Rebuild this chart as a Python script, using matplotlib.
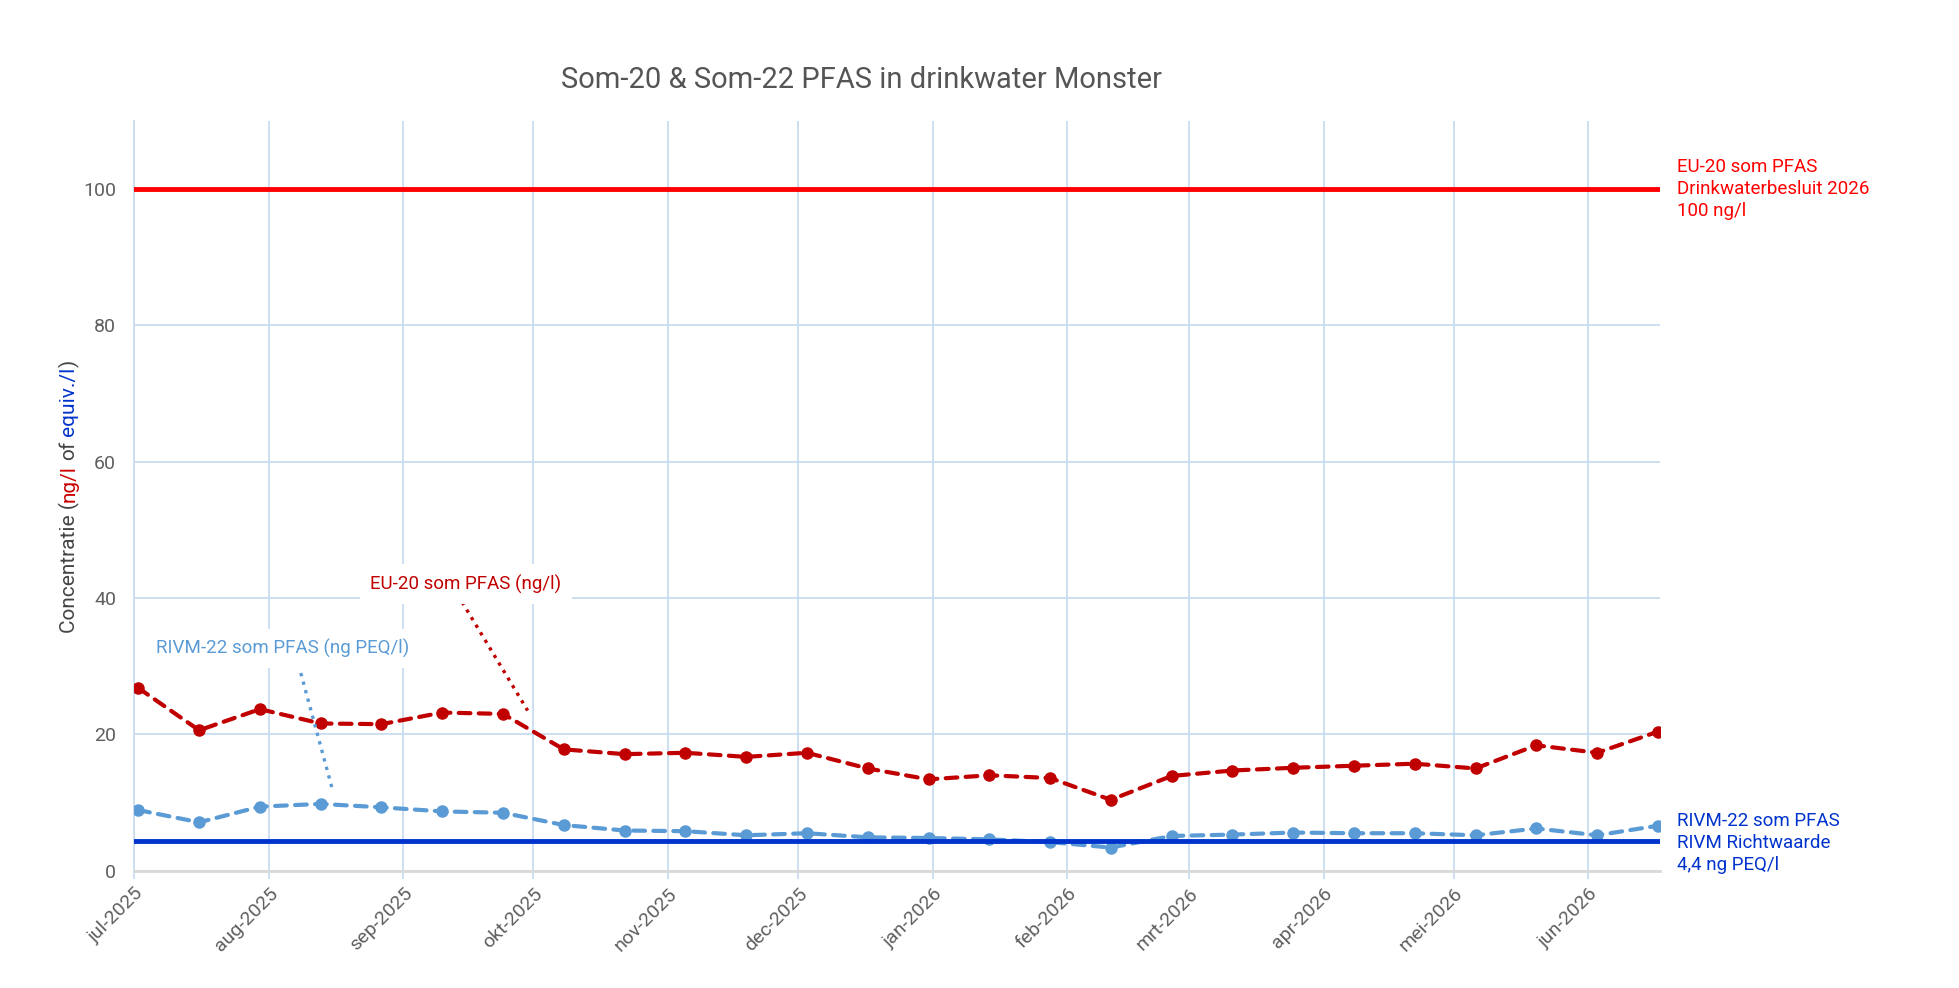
import matplotlib.pyplot as plt
import matplotlib.transforms as mtransforms
import pandas as pd

plt.rcParams['font.family'] = ['Roboto', 'DejaVu Sans']

# Sample dates (every two weeks) and measured sums
dates = pd.to_datetime([
    '2025-07-02', '2025-07-16', '2025-07-30', '2025-08-13', '2025-08-27',
    '2025-09-10', '2025-09-24', '2025-10-08', '2025-10-22', '2025-11-05',
    '2025-11-19', '2025-12-03', '2025-12-17', '2025-12-31', '2026-01-14',
    '2026-01-28', '2026-02-11', '2026-02-25', '2026-03-11', '2026-03-25',
    '2026-04-08', '2026-04-22', '2026-05-06', '2026-05-20', '2026-06-03',
    '2026-06-17',
])
eu20 = [26.8, 20.6, 23.7, 21.6, 21.5, 23.2, 23.0, 17.8, 17.1, 17.3,
        16.7, 17.3, 15.0, 13.4, 14.0, 13.6, 10.4, 13.9, 14.7, 15.1,
        15.4, 15.7, 15.0, 18.4, 17.3, 20.4]
rivm22 = [8.9, 7.1, 9.4, 9.8, 9.3, 8.7, 8.5, 6.7, 5.9, 5.8,
          5.2, 5.5, 4.9, 4.8, 4.6, 4.2, 3.4, 5.1, 5.3, 5.6,
          5.5, 5.5, 5.2, 6.2, 5.2, 6.6]

eu20_limit = 100
rivm_limit = 4.4

months = pd.to_datetime([
    '2025-07-01', '2025-08-01', '2025-09-01', '2025-10-01', '2025-11-01',
    '2025-12-01', '2026-01-01', '2026-02-01', '2026-03-01', '2026-04-01',
    '2026-05-01', '2026-06-01',
])
month_labels = ['jul-2025', 'aug-2025', 'sep-2025', 'okt-2025', 'nov-2025',
                'dec-2025', 'jan-2026', 'feb-2026', 'mrt-2026', 'apr-2026',
                'mei-2026', 'jun-2026']

# leader lines for the two series labels
eu_label_pos = (pd.Timestamp('2025-09-15 10:00'), 42.0)
eu_leader_x = pd.to_datetime(['2025-09-14 14:00', '2025-09-29 16:00'])
eu_leader_y = [39.4, 23.5]
rivm_label_pos = (pd.Timestamp('2025-08-04 08:00'), 32.6)
rivm_leader_x = pd.to_datetime(['2025-08-08 10:00', '2025-08-15 14:00'])
rivm_leader_y = [29.0, 12.2]

red_dark = '#c00000'
blue_light = '#5b9bd5'
red = '#ff0000'
blue = '#0033cc'
grid_col = '#c9dcf0'
grey = '#5f5f5f'

fig = plt.figure(figsize=(19.59, 9.88), dpi=100)
ax = fig.add_axes([0.0684, 0.1187, 0.779, 0.759])

dash = (0, (2.8, 2.0))
ax.plot(dates, eu20, color=red_dark, lw=3, ls=dash, dash_capstyle='round',
        marker='o', ms=8, zorder=3)
ax.plot(dates, rivm22, color=blue_light, lw=3, ls=dash, dash_capstyle='round',
        marker='o', ms=8, zorder=3)

ax.axhline(eu20_limit, color=red, lw=3.5, zorder=4)
ax.axhline(rivm_limit, color=blue, lw=3.5, zorder=4)

ax.set_xlim(pd.Timestamp('2025-07-01'), pd.Timestamp('2026-06-17 12:00'))
ax.set_ylim(0, 110)
ax.set_yticks([0, 20, 40, 60, 80, 100])
ax.set_xticks(months)
ax.set_xticklabels(month_labels, rotation=45, ha='right', va='top',
                   rotation_mode='anchor')
shift = mtransforms.ScaledTranslation(0.06, 0.02, fig.dpi_scale_trans)
for lab in ax.get_xticklabels():
    lab.set_transform(lab.get_transform() + shift)

ax.grid(True, color=grid_col, lw=1.3)
ax.set_axisbelow(True)
for s in ['top', 'right']:
    ax.spines[s].set_visible(False)
ax.spines['left'].set_color(grid_col)
ax.spines['left'].set_linewidth(1.3)
ax.spines['bottom'].set_color('#d9d9d9')
ax.spines['bottom'].set_linewidth(2)
ax.tick_params(axis='y', length=0, pad=13, labelsize=14, labelcolor=grey)
ax.tick_params(axis='x', length=6, width=1.3, color=grid_col, pad=4,
               labelsize=14, labelcolor=grey)

# series labels with dotted leaders
ax.plot(eu_leader_x, eu_leader_y, color=red_dark, lw=2.4, ls=':', zorder=3)
ax.text(*eu_label_pos, 'EU-20 som PFAS (ng/l)', color=red_dark, fontsize=13.5,
        ha='center', va='center', zorder=5,
        bbox=dict(boxstyle='square,pad=0.55', fc='white', ec='none'))
ax.plot(rivm_leader_x, rivm_leader_y, color=blue_light, lw=2.4, ls=':', zorder=3)
ax.text(*rivm_label_pos, 'RIVM-22 som PFAS (ng PEQ/l)', color=blue_light,
        fontsize=13.5, ha='center', va='center', zorder=5,
        bbox=dict(boxstyle='square,pad=0.55', fc='white', ec='none'))

# labels for the limit lines, right of the plot
trans = mtransforms.blended_transform_factory(ax.transAxes, ax.transData)
ax.text(1.011, eu20_limit, 'EU-20 som PFAS\nDrinkwaterbesluit 2026\n100 ng/l',
        transform=trans, color=red, fontsize=13.5, ha='left', va='center',
        linespacing=1.27)
ax.text(1.011, rivm_limit - 0.3, 'RIVM-22 som PFAS\nRIVM Richtwaarde\n4,4 ng PEQ/l',
        transform=trans, color=blue, fontsize=13.5, ha='left', va='center',
        linespacing=1.27)

fig.text(0.44, 0.9195, 'Som-20 & Som-22 PFAS in drinkwater Monster',
         color='#555555', fontsize=21, ha='center', va='center')

# y label in several colours
ylabel_parts = [('Concentratie (', '#444444'), ('ng/l', '#cc0000'),
                (' of ', '#444444'), ('equiv./l', '#0033cc'), (')', '#444444')]
ylabel_size = 15
renderer = fig.canvas.get_renderer()
probe1 = fig.text(0, 0, 'a a', fontsize=ylabel_size)
probe2 = fig.text(0, 0, 'aa', fontsize=ylabel_size)
space_w = (probe1.get_window_extent(renderer).width
           - probe2.get_window_extent(renderer).width)
probe1.remove()
probe2.remove()

ypos = 0.359 * fig.bbox.height
for piece, colour in ylabel_parts:
    lead = len(piece) - len(piece.lstrip(' '))
    trail = len(piece) - len(piece.rstrip(' '))
    ypos += lead * space_w
    t = fig.text(0.0352, ypos / fig.bbox.height, piece.strip(' '), rotation=90,
                 ha='center', va='bottom', color=colour, fontsize=ylabel_size)
    ypos += t.get_window_extent(renderer).height + trail * space_w

fig.savefig('out.png', dpi=100, facecolor='white')
